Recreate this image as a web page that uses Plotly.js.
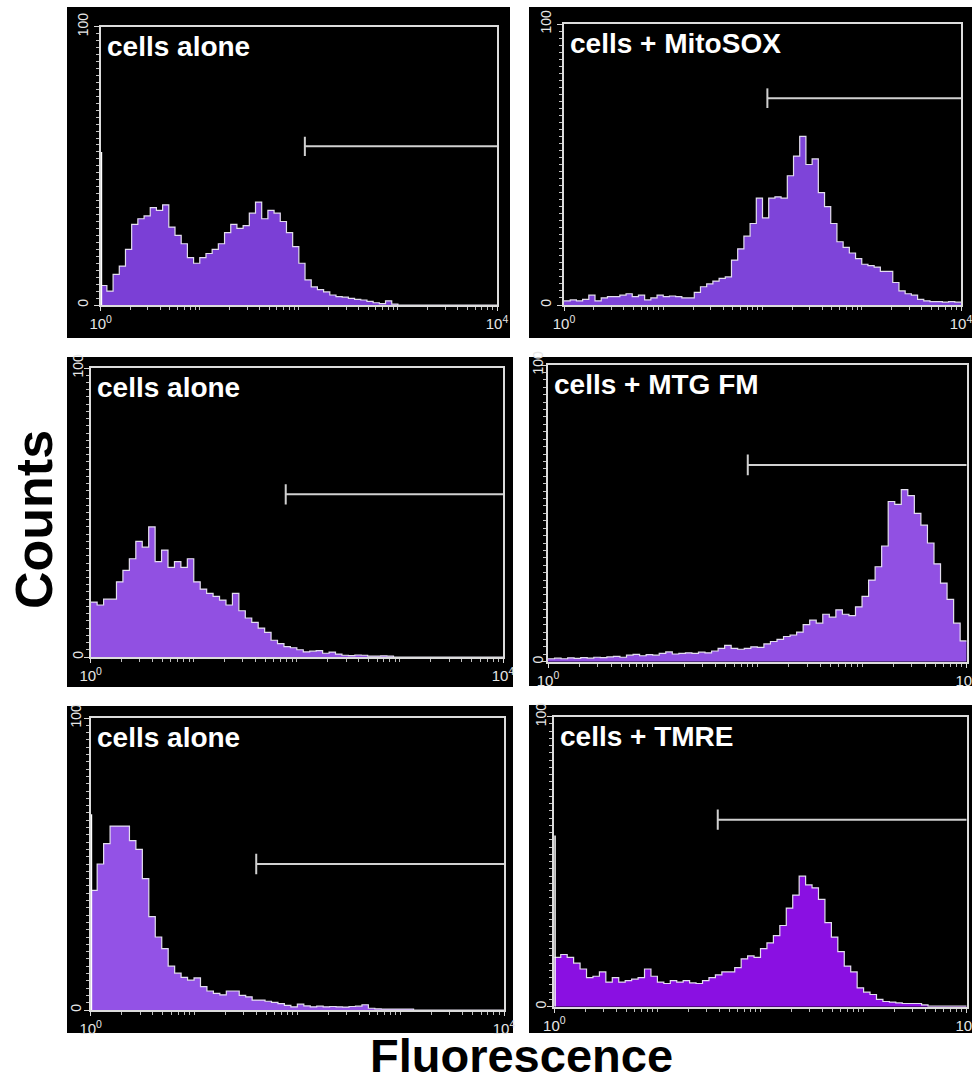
<!DOCTYPE html>
<html><head><meta charset="utf-8">
<script src="https://cdn.plot.ly/plotly-3.0.1.min.js"></script>
<style>html,body{margin:0;padding:0;background:#fff;}#chart{width:972px;height:1081px;}</style>
</head><body><div id="chart"></div>
<script>
// ---------- data ----------
const panelLabels = ['cells alone', 'cells + MitoSOX', 'cells alone', 'cells + MTG FM', 'cells alone', 'cells + TMRE'];
const xTickVals = [1, 10000];
const xTickText = ['10<sup>0</sup>', '10<sup>4</sup>'];
const yTickVals = [0, 100];
const yTickText = ['0', '100'];
const channelsPerDecade = 16;

const countsTL = [7,5,11,14,20,29,31,32,35,34, 36,28,25,22,17,15,17,18.5,20,22, 26,29,27.5,28.5,33,37,31,34,33,30,
  26,21,15,9,6.5,5.5,4.7,3.6,3,2.8, 2.4,2,1.8,1.3,0.8,0.5,1.5,0.3,0,0, 0,0,0,0,0,0,0,0,0,0, 0,0,0,0];
const countsTR = [1.5,1.8,1.5,2,3.5,1.5,2.5,3,3,3.5, 4,3,3.5,1.8,2.5,3.5,3,3.2,3,2.5, 2.5,4.5,6.5,7.5,8.5,9.5,10,16,20,24.5,
  29,38,31,38,38.5,38,46,53,60,50, 52,40,35,29,22.5,20.5,18.5,16.5,14.5,14, 13.5,12,12,8,5,4,3.5,2,1.5,1.2, 1.2,1,1.2,1];
const countsML = [19,18,20,20,26,30,34,40,38,45, 33,37,31,33,31,34,26,23.5,22,21, 19.7,18,22,16,13.5,12,10,8.5,5.8,4.6,
  3.6,3.2,2.5,1.8,2,2.2,1.3,1.7,1,0.6, 0.5,0.7,0.6,0.3,0.3,0.4,0.3,0,0,0, 0,0,0,0,0,0,0,0,0,0, 0,0,0,0];
const countsMR = [1,1.2,1,1.3,1.1,1.4,1.2,1.5,1.4,1.6, 1.8,1.5,2.2,2.5,2,2.4,2.2,2.8,3.3,2.6, 2.8,3,2.8,3.2,3,3.6,4.5,5.5,4.5,4.2,
  4.5,5,4.8,6,6.8,7.5,8.5,9,10,12.5, 14,13,16,15,17.5,16,15.5,18.5,22,27.5, 32,39,54,53,58,56,50,46,40,33, 26.5,21,13,7];
const countsBL = [41,50,57,63,63,63,58,55,45,32, 25,21,15,12.6,11.2,10.2,11,8,6.5,5.7, 5.2,6.5,6.5,5,4.5,3.4,3.4,3,2.6,2.2,
  1.6,1.1,2,1.4,1.1,1.3,1.1,1.2,1.1,1, 1.2,1.3,1.8,0.6,0.4,0.3,0.3,0.3,0.3,0.3, 0,0,0,0,0,0,0,0,0,0, 0,0,0,0];
const countsBR = [17,18,17,15,13,10,10.5,12,8.5,10, 8.5,9,9.5,10,13,10.5,8.5,8,9,8.5, 9,8.2,8,9,10,11,12,12,13.5,16.5,
  17.5,17,20,22,24.5,28,34,38.5,45,42, 41,37,29,24,19,14,12,6.5,5,4.2, 2.5,1.8,1.6,1.3,1.1,1.1,1.1,0.6,0.2,0.2, 0.2,0.2,0.2,0.2];
const edgeSpike = [55, 0, 0, 0, 67, 59];          // first-channel spike height
const gateStart = [115, 112, 78, 81, 40, 38.5];   // gate marker start (fluorescence)
const gateLevel = [57, 73.6, 56.3, 66.3, 50, 64.5];
const fillColors = ['#7b3fd6', '#7e44d9', '#9150e2', '#9150e3', '#9352e6', '#8a10e2'];

// ---------- layout geometry ----------
const W = 972, H = 1081;
const frames = [ // plot frame in px: x0,x1,y0(top),y1(bottom)
  [100.7, 497, 26.7, 305], [564, 961, 24, 305],
  [90.7, 503, 368, 657], [548, 966.7, 365, 661.7],
  [90.7, 504, 718, 1010], [554.3, 966.7, 716.7, 1006.7]];
const panels = [ // black background panels px: x0,x1,y0,y1
  [67, 510, 7, 338], [529, 972, 7, 338],
  [67, 513, 357, 687], [529, 972, 357, 686],
  [67, 513, 706, 1033], [529, 972, 705, 1033]];
const labelStandoff = [0, 0, -5, -8, -3, -4];

const allCounts = [countsTL, countsTR, countsML, countsMR, countsBL, countsBR];
const minorX = [];
for (let d = 0; d < 4; d++) for (let k = 2; k <= 10; k++) minorX.push(k * Math.pow(10, d));

const traces = [], annotations = [], shapes = [];
const layout = {
  width: W, height: H, margin: {l: 0, r: 0, t: 0, b: 0},
  paper_bgcolor: '#ffffff', plot_bgcolor: '#000000',
  showlegend: false, hovermode: false, dragmode: false,
  font: {family: 'Liberation Sans, Arial, sans-serif'}
};

allCounts.forEach((counts, i) => {
  const s = i === 0 ? '' : String(i + 1);
  const xa = 'x' + s, ya = 'y' + s;
  const f = frames[i], p = panels[i];
  const xs = counts.map((_, j) => Math.pow(10, j / channelsPerDecade));
  xs.push(Math.pow(10, counts.length / channelsPerDecade));
  const ys = counts.concat([counts[counts.length - 1]]);
  traces.push({type: 'scatter', mode: 'lines', x: xs, y: ys, xaxis: xa, yaxis: ya,
    line: {shape: 'hv', color: 'rgba(236,232,246,0.95)', width: 1.2},
    fill: 'tozeroy', fillcolor: fillColors[i]});
  if (edgeSpike[i] > 0) {
    traces.push({type: 'scatter', mode: 'lines', x: [xs[0], xs[0]], y: [0, edgeSpike[i]], xaxis: xa, yaxis: ya,
      line: {color: '#ffffff', width: 3}});
  }
  traces.push({type: 'scatter', mode: 'lines', x: [gateStart[i], xs[xs.length - 1]], y: [gateLevel[i], gateLevel[i]],
    xaxis: xa, yaxis: ya, line: {color: '#d0d0d0', width: 2}});
  traces.push({type: 'scatter', mode: 'lines', x: [gateStart[i], gateStart[i]], y: [gateLevel[i] - 3.5, gateLevel[i] + 3.5],
    xaxis: xa, yaxis: ya, line: {color: '#d0d0d0', width: 2}});

  layout['xaxis' + s] = {
    type: 'log', range: [0, 4], domain: [f[0] / W, f[1] / W], anchor: ya,
    tickmode: 'array', tickvals: xTickVals, ticktext: xTickText, ticklabeloverflow: 'allow',
    ticks: 'outside', ticklen: 4, tickwidth: 1, tickcolor: '#d8d8d8',
    tickfont: {size: 15, color: '#e6e6e6', family: 'Liberation Sans, Arial'},
    minor: {tickmode: 'array', tickvals: minorX, ticks: 'outside', ticklen: 3, tickcolor: '#bdbdbd', showgrid: false},
    showline: true, linecolor: '#dcdcdc', linewidth: 2, mirror: true,
    showgrid: false, zeroline: false, fixedrange: true
  };
  layout['yaxis' + s] = {
    range: [0, 100], domain: [1 - f[3] / H, 1 - f[2] / H], anchor: xa,
    tickmode: 'array', tickvals: yTickVals, ticktext: yTickText, tickangle: -90, ticklabeloverflow: 'allow',
    ticklabelstandoff: labelStandoff[i],
    ticks: 'outside', ticklen: 5, tickwidth: 1, tickcolor: '#d8d8d8',
    tickfont: {size: 14, color: '#e6e6e6', family: 'Liberation Sans, Arial'},
    minor: {tickmode: 'linear', tick0: 0, dtick: 2.5, ticks: 'outside', ticklen: 3, tickcolor: '#c4c4c4', showgrid: false},
    showline: true, linecolor: '#dcdcdc', linewidth: 2, mirror: true,
    showgrid: false, zeroline: false, fixedrange: true
  };
  shapes.push({type: 'rect', xref: 'paper', yref: 'paper', layer: 'below',
    x0: p[0] / W, x1: p[1] / W, y0: 1 - p[3] / H, y1: 1 - p[2] / H,
    fillcolor: '#000000', line: {width: 0}});
  annotations.push({text: '<b>' + panelLabels[i] + '</b>', xref: xa + ' domain', yref: ya + ' domain',
    x: 0, y: 1, xanchor: 'left', yanchor: 'top', xshift: 4, yshift: -2, showarrow: false,
    font: {size: 28, color: '#ffffff', family: 'Liberation Sans, Arial'}});
});

annotations.push({text: '<b>Counts</b>', xref: 'paper', yref: 'paper', x: 34 / W, y: 1 - 520 / H,
  textangle: -90, showarrow: false, xanchor: 'center', yanchor: 'middle',
  font: {size: 52, color: '#000000', family: 'Liberation Sans, Arial'}});
annotations.push({text: '<b>Fluorescence</b>', xref: 'paper', yref: 'paper', x: 521 / W, y: 1 - 1055 / H,
  showarrow: false, xanchor: 'center', yanchor: 'middle',
  font: {size: 47, color: '#000000', family: 'Liberation Sans, Arial'}});

layout.shapes = shapes;
layout.annotations = annotations;

Plotly.newPlot('chart', traces, layout, {staticPlot: true, displayModeBar: false});
</script></body></html>
